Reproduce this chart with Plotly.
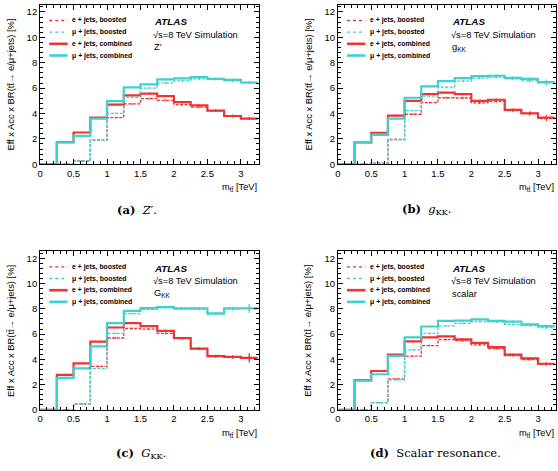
import plotly.graph_objects as go

# bin edges (TeV)
edges = [0, 0.25, 0.5, 0.75, 1.0, 1.25, 1.5, 1.75, 2.0, 2.25, 2.5, 2.75, 3.0, 3.25]

# Panel (a) Z'
e_comb_a = [0, 1.75, 2.5, 3.68, 4.7, 5.43, 5.56, 5.37, 4.9, 4.64, 4.23, 3.8, 3.6]
mu_comb_a = [0, 1.72, 2.24, 3.6, 4.98, 6.05, 6.29, 6.68, 6.76, 6.86, 6.73, 6.65, 6.44]
e_boost_a = [0, 0, 0.26, 1.9, 3.68, 4.75, 5.17, 5.03, 4.7, 4.5, 4.2, 3.78, 3.6]
mu_boost_a = [0, 0, 0.26, 1.9, 4.0, 5.27, 6.0, 6.39, 6.57, 6.73, 6.68, 6.57, 6.42]
err_a = [0, 0.05, 0.05, 0.06, 0.06, 0.07, 0.07, 0.08, 0.09, 0.1, 0.1, 0.11, 0.12]

# Panel (b) g_KK
e_comb_b = [0, 1.72, 2.48, 3.83, 5.0, 5.53, 5.64, 5.53, 5.0, 5.08, 4.28, 4.0, 3.68]
mu_comb_b = [0, 1.75, 2.32, 3.6, 5.24, 6.13, 6.55, 6.78, 6.94, 6.97, 6.81, 6.73, 6.47]
e_boost_b = [0, 0, 0.08, 1.95, 3.94, 4.85, 5.24, 5.22, 4.83, 4.96, 4.23, 4.0, 3.6]
mu_boost_b = [0, 0, 0.08, 1.95, 4.23, 5.37, 6.08, 6.55, 6.78, 6.86, 6.73, 6.57, 6.42]
err_b = [0, 0.05, 0.05, 0.06, 0.06, 0.07, 0.08, 0.09, 0.1, 0.11, 0.13, 0.16, 0.22]

# Panel (c) G_KK
e_comb_c = [0, 2.77, 3.68, 5.4, 6.52, 6.86, 6.63, 6.26, 5.69, 4.85, 4.25, 4.2, 4.12]
mu_comb_c = [0, 2.53, 3.29, 5.03, 6.86, 7.83, 8.06, 8.14, 8.03, 8.03, 7.64, 8.03, 8.03]
e_boost_c = [0, 0, 0.47, 3.44, 5.69, 6.44, 6.39, 6.05, 5.64, 4.83, 4.23, 4.17, 4.12]
mu_boost_c = [0, 0, 0.47, 3.29, 6.05, 7.62, 7.96, 8.09, 7.98, 7.98, 7.59, 8.0, 8.03]
err_c = [0, 0.05, 0.06, 0.06, 0.07, 0.07, 0.08, 0.09, 0.1, 0.11, 0.12, 0.14, 0.35]

# Panel (d) scalar
e_comb_d = [0, 2.35, 3.08, 4.38, 5.43, 5.74, 5.82, 5.58, 5.3, 4.96, 4.38, 4.07, 3.65]
mu_comb_d = [0, 2.32, 2.82, 4.28, 5.74, 6.6, 7.04, 7.07, 7.17, 7.04, 6.99, 6.76, 6.63]
e_boost_d = [0, 0, 0.57, 2.45, 4.25, 5.09, 5.56, 5.48, 5.14, 4.85, 4.3, 3.99, 3.6]
mu_boost_d = [0, 0, 0.57, 2.37, 4.75, 6.05, 6.65, 6.84, 6.99, 6.97, 6.76, 6.68, 6.52]
err_d = [0, 0.05, 0.05, 0.06, 0.06, 0.07, 0.07, 0.08, 0.08, 0.09, 0.1, 0.11, 0.12]

legend_labels = ["e + jets, boosted", "\u03bc + jets, boosted",
                 "e + jets, combined", "\u03bc + jets, combined"]
model_labels = ["Z\u2032", "g<sub>KK</sub>", "G<sub>KK</sub>", "scalar"]
captions = ["<b>(a)</b>  <i>Z\u2032</i>.", "<b>(b)</b>  <i>g</i><sub>KK</sub>.",
            "<b>(c)</b>  <i>G</i><sub>KK</sub>.", "<b>(d)</b>  Scalar resonance."]

RED = "#ee3333"
CYAN = "#40d0d0"
W, H = 558, 471
SANS = "Liberation Sans, Arial, sans-serif"
SERIF = "DejaVu Serif, serif"

def px(x):
    return x / W

def py(y):
    return 1 - y / H

# panel frames in pixels: (left, right, top, bottom)
frames = [(37.3, 257.0, 5.0, 166.0), (336.7, 555.7, 5.0, 166.0),
          (37.3, 257.0, 254.0, 414.3), (336.7, 555.7, 254.0, 414.3)]
caption_pos = [(135, 212), (426, 212), (139, 458), (435, 458)]

panels = [
    (e_comb_a, mu_comb_a, e_boost_a, mu_boost_a, err_a),
    (e_comb_b, mu_comb_b, e_boost_b, mu_boost_b, err_b),
    (e_comb_c, mu_comb_c, e_boost_c, mu_boost_c, err_c),
    (e_comb_d, mu_comb_d, e_boost_d, mu_boost_d, err_d),
]

fig = go.Figure()
annotations = []
shapes = []
centers = [(edges[i] + edges[i + 1]) / 2 for i in range(len(edges) - 1)]
xs = edges[:]

for k, (ec, mc, eb, mb, err) in enumerate(panels):
    sfx = "" if k == 0 else str(k + 1)
    xa, ya = "x" + sfx, "y" + sfx
    series = [
        (ec, RED, 2.2, "solid"),
        (mc, CYAN, 2.2, "solid"),
        (eb, RED, 1.3, "3px,1.5px"),
        (mb, CYAN, 1.3, "3px,1.5px"),
    ]
    for vals, col, lw, dash in series:
        fig.add_trace(go.Scatter(
            x=xs, y=list(vals) + [vals[-1]], mode="lines", line_shape="hv",
            line=dict(color=col, width=lw, dash=dash), xaxis=xa, yaxis=ya,
            showlegend=False, hoverinfo="skip"))
        fig.add_trace(go.Scatter(
            x=centers[1:], y=vals[1:], mode="markers",
            marker=dict(size=1, color=col),
            error_y=dict(type="data", array=err[1:], color=col, thickness=1, width=0),
            xaxis=xa, yaxis=ya, showlegend=False, hoverinfo="skip"))

    L, R, T, B = frames[k]
    axis_common = dict(ticks="inside", showline=True, linecolor="black", linewidth=1,
                       mirror="ticks", tickcolor="black", ticklen=5,
                       tickfont=dict(family=SANS, size=9.5, color="black"),
                       showgrid=False, zeroline=False)
    fig.update_layout(**{
        "xaxis" + sfx: dict(domain=[px(L), px(R)], range=[0, 3.265], dtick=0.5, tick0=0,
                            anchor=ya,
                            minor=dict(dtick=0.1, ticks="inside", ticklen=3, tickcolor="black"),
                            **axis_common),
        "yaxis" + sfx: dict(domain=[py(B), py(T)], range=[0, 12.55], dtick=2, tick0=0,
                            anchor=xa,
                            minor=dict(dtick=0.4, ticks="inside", ticklen=3, tickcolor="black"),
                            **axis_common),
    })

    # legend (drawn manually)
    row_off = [15.7, 27.5, 39.3, 51.1]
    styles = [(RED, 1.3, "dot"), (CYAN, 1.3, "dot"), (RED, 2.6, "solid"), (CYAN, 2.6, "solid")]
    for i, lab in enumerate(legend_labels):
        yy = T + row_off[i]
        col, lw, dash = styles[i]
        shapes.append(dict(type="line", xref="paper", yref="paper",
                           x0=px(L + 9.2), x1=px(L + 27.7), y0=py(yy), y1=py(yy),
                           line=dict(color=col, width=lw, dash=dash)))
        annotations.append(dict(xref="paper", yref="paper", x=px(L + 30.5), y=py(yy),
                                xanchor="left", yanchor="middle", showarrow=False,
                                text="<b>" + lab + "</b>",
                                font=dict(family=SANS, size=6.9, color="black")))
    annotations.append(dict(xref="paper", yref="paper", x=px(L + 112.5), y=py(T + 17),
                            xanchor="left", yanchor="middle", showarrow=False,
                            text="<b><i>ATLAS</i></b>",
                            font=dict(family=SANS, size=9.8, color="black")))
    annotations.append(dict(xref="paper", yref="paper", x=px(L + 112), y=py(T + 30),
                            xanchor="left", yanchor="middle", showarrow=False,
                            text="\u221as=8 TeV Simulation",
                            font=dict(family=SANS, size=9.3, color="black")))
    annotations.append(dict(xref="paper", yref="paper", x=px(L + 112.5), y=py(T + 43),
                            xanchor="left", yanchor="middle", showarrow=False,
                            text=model_labels[k],
                            font=dict(family=SANS, size=9.3, color="black")))
    # axis titles
    annotations.append(dict(xref="paper", yref="paper", x=px(L - 30), y=py(T + 11.5),
                            xanchor="center", yanchor="top", showarrow=False, textangle=-90,
                            text="Eff x Acc x BR(tt\u0304\u2192 e/\u03bc+jets) [%]",
                            font=dict(family=SANS, size=9.4, color="black")))
    annotations.append(dict(xref="paper", yref="paper", x=px(R), y=py(B + 24),
                            xanchor="right", yanchor="middle", showarrow=False,
                            text="m<sub>tt\u0304</sub> [TeV]",
                            font=dict(family=SANS, size=9.3, color="black")))
    cx, cy = caption_pos[k]
    annotations.append(dict(xref="paper", yref="paper", x=px(cx), y=py(cy),
                            xanchor="center", yanchor="middle", showarrow=False,
                            text=captions[k],
                            font=dict(family=SERIF, size=11.5, color="black")))

fig.update_layout(width=W, height=H, margin=dict(l=0, r=0, t=0, b=0),
                  paper_bgcolor="white", plot_bgcolor="white",
                  annotations=annotations, shapes=shapes, showlegend=False)

fig.write_html("out.html", config={"displayModeBar": False},
               post_script="document.body.style.margin='0';document.body.style.overflow='hidden';")
